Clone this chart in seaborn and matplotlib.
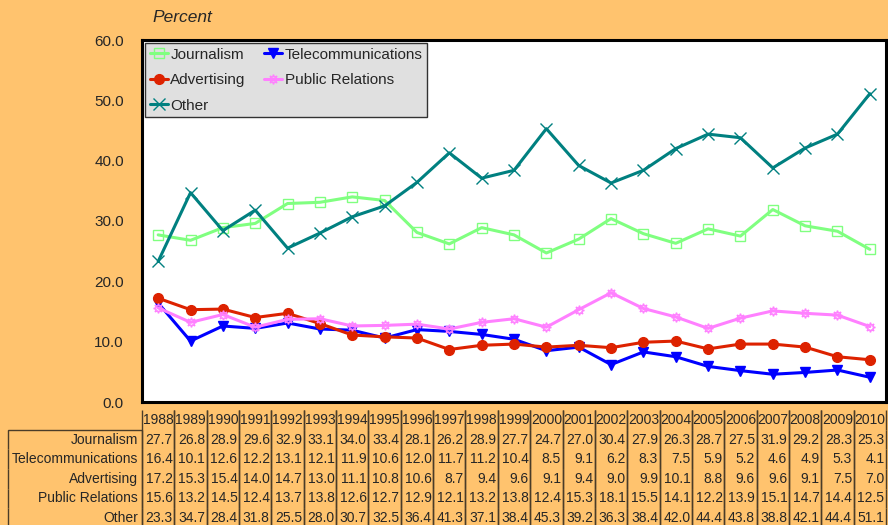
import pandas as pd
import matplotlib
matplotlib.use('Agg')
import matplotlib.pyplot as plt
import seaborn as sns

years = list(range(1988, 2011))
journalism = [27.7, 26.8, 28.9, 29.6, 32.9, 33.1, 34.0, 33.4, 28.1, 26.2, 28.9, 27.7,
              24.7, 27.0, 30.4, 27.9, 26.3, 28.7, 27.5, 31.9, 29.2, 28.3, 25.3]
telecom = [16.4, 10.1, 12.6, 12.2, 13.1, 12.1, 11.9, 10.6, 12.0, 11.7, 11.2, 10.4,
           8.5, 9.1, 6.2, 8.3, 7.5, 5.9, 5.2, 4.6, 4.9, 5.3, 4.1]
advertising = [17.2, 15.3, 15.4, 14.0, 14.7, 13.0, 11.1, 10.8, 10.6, 8.7, 9.4, 9.6,
               9.1, 9.4, 9.0, 9.9, 10.1, 8.8, 9.6, 9.6, 9.1, 7.5, 7.0]
public_rel = [15.6, 13.2, 14.5, 12.4, 13.7, 13.8, 12.6, 12.7, 12.9, 12.1, 13.2, 13.8,
              12.4, 15.3, 18.1, 15.5, 14.1, 12.2, 13.9, 15.1, 14.7, 14.4, 12.5]
other = [23.3, 34.7, 28.4, 31.8, 25.5, 28.0, 30.7, 32.5, 36.4, 41.3, 37.1, 38.4,
         45.3, 39.2, 36.3, 38.4, 42.0, 44.4, 43.8, 38.8, 42.1, 44.4, 51.1]

names = ['Journalism', 'Telecommunications', 'Advertising', 'Public Relations', 'Other']
series = [journalism, telecom, advertising, public_rel, other]
colors = ['#80FF80', '#0000FF', '#DD2200', '#FF80FF', '#008080']
markers = ['s', 'v', 'o', (8, 1, 0), 'x']
filled = [False, True, True, False, True]

bg = '#FFC36E'
sns.set_theme(style='white')
plt.rcParams['font.family'] = ['Liberation Sans', 'DejaVu Sans']

fig = plt.figure(figsize=(8.88, 5.25), dpi=100, facecolor=bg)
ax = fig.add_axes([142 / 888, 1 - 402 / 525, 744 / 888, 362 / 525])
ax.set_facecolor('white')

pos = list(range(len(years)))
for name, vals, c, m, f in zip(names, series, colors, markers, filled):
    df = pd.DataFrame({'pos': pos, 'val': vals})
    sns.lineplot(data=df, x='pos', y='val', ax=ax, color=c, lw=2.2,
                 marker=m, markersize=7 if m != 'x' else 8,
                 markerfacecolor=c if f else 'none', markeredgecolor=c,
                 markeredgewidth=1.0, label=name)

ax.set_xlim(-0.5, len(years) - 0.5)
ax.set_ylim(0, 60)
ax.set_yticks(range(0, 61, 10))
ax.set_yticklabels([f'{v:.1f}' for v in range(0, 61, 10)], fontsize=11)
ax.tick_params(axis='y', length=0, pad=13)
ax.set_xticks([])
ax.set_xlabel('')
ax.set_ylabel('')
for s in ax.spines.values():
    s.set_color('black')
    s.set_linewidth(2.2)

h, l = ax.get_legend_handles_labels()
order = [0, 2, 4, 1, 3]
leg = ax.legend([h[i] for i in order], [l[i] for i in order], ncol=2,
                loc='upper left', fontsize=11, frameon=True, fancybox=False,
                facecolor='#E0E0E0', edgecolor='#333333', framealpha=1,
                handlelength=1.2, handletextpad=0.15, columnspacing=1.2,
                borderpad=0.3, labelspacing=0.75, borderaxespad=0.2)
leg.get_frame().set_linewidth(1.0)

fig.text(152 / 888, 1 - 18 / 525, 'Percent', fontsize=12.5, style='italic', va='center')

# data table under the plot: first column holds the row names
cell_text = [[n] + [f'{v:.1f}' for v in vals] for n, vals in zip(names, series)]
col_labels = [''] + [str(y) for y in years]
lab_w = 134 / 744
ncol = len(years)
tbl = ax.table(cellText=cell_text, colLabels=col_labels,
               cellLoc='right', colLoc='center',
               colWidths=[lab_w] + [1 / ncol] * ncol,
               bbox=[-lab_w, -126 / 362, 1 + lab_w, 118 / 362])
tbl.auto_set_font_size(False)
tbl.set_fontsize(10)
edge = '#4A3C28'
for (r, c), cell in tbl.get_celld().items():
    cell.set_facecolor(bg)
    cell.set_edgecolor(edge)
    cell.set_linewidth(1.0)
    cell.PAD = 0.05
    if c == 0:
        cell.PAD = 0.03
        if r == 0:
            cell.visible_edges = ''
        elif r == 1:
            cell.visible_edges = 'TLR'
        else:
            cell.visible_edges = 'LR'
    else:
        cell.visible_edges = 'LR'

fig.savefig('out.png', dpi=100, facecolor=bg)
